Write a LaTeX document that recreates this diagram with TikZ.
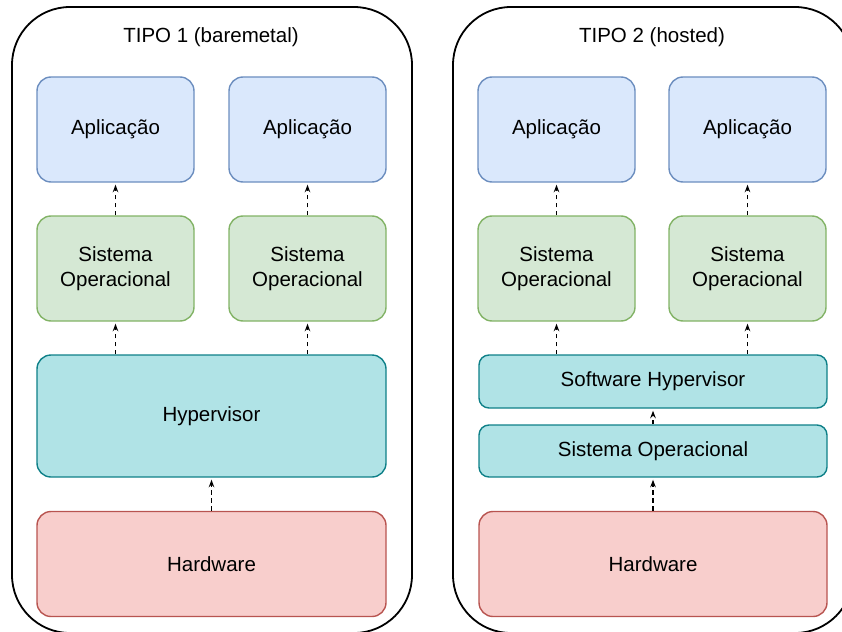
\documentclass[tikz,border=0pt]{standalone}
\usepackage{fontspec}
\setmainfont{Liberation Sans}
\usetikzlibrary{arrows.meta}

\definecolor{appfill}{HTML}{DAE8FC}
\definecolor{appline}{HTML}{6C8EBF}
\definecolor{osfill}{HTML}{D5E8D4}
\definecolor{osline}{HTML}{82B366}
\definecolor{hvfill}{HTML}{B0E3E6}
\definecolor{hvline}{HTML}{0E8088}
\definecolor{hwfill}{HTML}{F8CECC}
\definecolor{hwline}{HTML}{B85450}

\tikzset{
  layer/.style={draw, line width=1.4pt, rounded corners=14pt, align=center,
    inner sep=0pt, font=\fontsize{20.5}{25}\selectfont},
  appbox/.style={layer, fill=appfill, draw=appline},
  osbox/.style={layer, fill=osfill, draw=osline},
  hvbox/.style={layer, fill=hvfill, draw=hvline},
  hwbox/.style={layer, fill=hwfill, draw=hwline},
  panel/.style={draw=black, line width=1.8pt, rounded corners=58pt},
  title/.style={font=\fontsize{20.5}{25}\selectfont, inner sep=0pt},
  dep/.style={-{Stealth[length=7.5pt,width=5.5pt]}, line width=1.6pt,
    dash pattern=on 4.5pt off 3.5pt, shorten >=2pt}
}

\begin{document}
\begin{tikzpicture}[x=1pt, y=-1pt]
  \useasboundingbox (0,0) rectangle (842,631);
  \clip (0,0) rectangle (842,631);

  % the two panels (they run past the page edge)
  \draw[panel] (12,7) rectangle (412,633);
  \draw[panel] (453,7) rectangle (853,633);

  \node[title] (t1) at (211,37) {TIPO 1 (baremetal)};
  \node[title] (t2) at (652,37) {TIPO 2 (hosted)};

  % ---- type 1 ----
  \node[appbox, minimum width=157pt, minimum height=105pt] (a1) at (115.5,129.5) {Aplicação};
  \node[appbox, minimum width=157pt, minimum height=105pt] (a2) at (307.5,129.5) {Aplicação};
  \node[osbox, minimum width=157pt, minimum height=105pt] (s1) at (115.5,268.5) {Sistema\\Operacional};
  \node[osbox, minimum width=157pt, minimum height=105pt] (s2) at (307.5,268.5) {Sistema\\Operacional};
  \node[hvbox, minimum width=349pt, minimum height=122pt] (h1) at (211.5,416) {Hypervisor};
  \node[hwbox, minimum width=349pt, minimum height=105pt] (w1) at (211.5,564) {Hardware};

  \draw[dep] (s1.north) -- (a1.south);
  \draw[dep] (s2.north) -- (a2.south);
  \draw[dep] (h1.north -| s1) -- (s1.south);
  \draw[dep] (h1.north -| s2) -- (s2.south);
  \draw[dep] (w1.north) -- (h1.south);

  % ---- type 2 ----
  \node[appbox, minimum width=157pt, minimum height=105pt] (a3) at (556.5,129.5) {Aplicação};
  \node[appbox, minimum width=157pt, minimum height=105pt] (a4) at (747.5,129.5) {Aplicação};
  \node[osbox, minimum width=157pt, minimum height=105pt] (s3) at (556.5,268.5) {Sistema\\Operacional};
  \node[osbox, minimum width=157pt, minimum height=105pt] (s4) at (747.5,268.5) {Sistema\\Operacional};
  \node[hvbox, rounded corners=10pt, minimum width=348pt, minimum height=53pt] (sh) at (653,381.5) {Software Hypervisor};
  \node[hvbox, rounded corners=10pt, minimum width=348pt, minimum height=52pt] (so) at (653,451) {Sistema Operacional};
  \node[hwbox, minimum width=348pt, minimum height=105pt] (w2) at (653,564) {Hardware};

  \draw[dep] (s3.north) -- (a3.south);
  \draw[dep] (s4.north) -- (a4.south);
  \draw[dep] (sh.north -| s3) -- (s3.south);
  \draw[dep] (sh.north -| s4) -- (s4.south);
  \draw[dep] (so.north) -- (sh.south);
  \draw[dep] (w2.north) -- (so.south);
\end{tikzpicture}
\end{document}
